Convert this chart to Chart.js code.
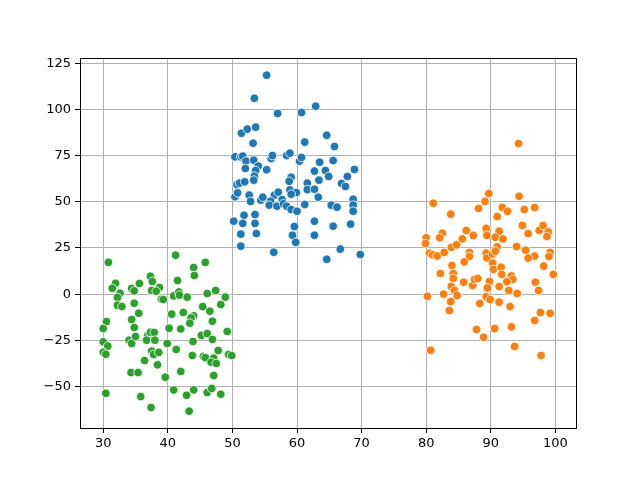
<!DOCTYPE html>
<html>
<head>
<meta charset="utf-8">
<script src="https://cdn.jsdelivr.net/npm/chart.js@4/dist/chart.umd.min.js"></script>
<style>
  html, body { margin: 0; padding: 0; background: #fff; }
  canvas { display: block; }
</style>
</head>
<body>
<canvas id="scatterChart" width="640" height="480"></canvas>
<script>
// Tick labels
const xTicks = [30, 40, 50, 60, 70, 80, 90, 100];
const yTicks = [-50, -25, 0, 25, 50, 75, 100, 125];

// Blue cluster
const blueX = [55.3, 53.4, 62.9, 57.0, 60.7, 51.4, 52.3, 53.6, 53.2, 61.2, 64.6, 65.8, 50.4, 51.3, 51.6, 52.1,
  53.3, 56.0, 56.2, 58.4, 58.9, 60.4, 60.7, 63.5, 65.6, 54.0, 52.0, 53.6, 55.3, 62.7, 64.4, 68.9,
  53.4, 53.3, 50.7, 51.1, 51.9, 59.1, 58.8, 61.6, 63.4, 64.9, 67.8, 66.9, 67.5, 50.4, 50.8, 52.6,
  52.8, 54.4, 54.7, 56.5, 57.1, 58.9, 59.9, 59.1, 61.6, 62.7, 63.3, 55.9, 55.7, 56.9, 57.7, 57.9,
  58.4, 59.1, 60.0, 61.2, 65.3, 66.2, 68.7, 68.7, 68.7, 50.2, 51.8, 51.6, 53.5, 53.5, 53.7, 51.3,
  51.3, 59.6, 59.3, 59.8, 62.7, 62.7, 65.6, 68.3, 56.4, 66.7, 64.6, 69.8];
const blueY = [118.5, 106.0, 101.7, 97.8, 98.3, 87.1, 89.3, 90.4, 81.7, 82.3, 86.0, 79.9, 74.3, 74.3, 74.7, 72.0,
  72.5, 73.4, 75.0, 75.0, 76.3, 72.0, 74.0, 71.4, 72.3, 69.3, 68.0, 66.9, 67.3, 66.6, 66.9, 67.5,
  63.9, 61.7, 59.3, 60.1, 60.8, 63.3, 61.1, 60.1, 61.7, 63.7, 63.7, 59.9, 58.3, 52.7, 54.8, 53.6,
  50.2, 50.9, 52.5, 53.6, 55.2, 56.4, 55.0, 54.1, 56.6, 56.8, 52.5, 50.3, 48.2, 47.6, 51.2, 48.9,
  47.6, 45.8, 44.9, 48.5, 48.2, 47.1, 51.4, 48.2, 44.9, 39.5, 42.7, 38.3, 43.1, 38.3, 32.8, 32.5,
  26.0, 36.6, 31.9, 28.1, 39.5, 31.9, 36.8, 37.9, 22.7, 24.4, 18.9, 21.5];

// Orange cluster
const orangeX = [81.1, 83.8, 88.1, 89.1, 89.7, 82.5, 86.2, 87.3, 89.3, 80.0, 82.1, 85.6, 89.4,
  94.3, 94.4, 91.8, 92.6, 95.2, 96.8, 91.0, 91.3, 94.9, 95.8, 97.5, 98.1, 98.9, 98.7, 90.7, 91.9,
  79.9, 80.5, 81.0, 81.7, 82.8, 83.9, 84.7, 86.7, 86.7, 85.9, 89.3, 89.4, 84.0, 82.2, 84.2, 84.2,
  85.8, 87.2, 87.5, 88.0, 83.9, 84.4, 84.8, 82.7, 80.2, 83.8, 83.6, 88.3, 89.3, 89.4, 87.8, 88.9, 80.7,
  91.0, 94.0, 95.4, 96.8, 95.8, 99.2, 99.0, 98.2, 99.7, 90.3, 90.7, 90.3, 90.4, 91.6, 91.7, 93.2,
  93.4, 92.5, 89.8, 89.5, 91.3, 92.8, 94.1, 96.9, 97.4, 89.9, 91.3, 93.0, 97.7, 99.2, 96.8, 90.6,
  93.2, 93.7, 97.8];
const orangeY = [49.2, 43.3, 46.4, 50.2, 54.5, 33.0, 34.5, 31.8, 35.6, 30.5, 30.5, 29.9, 31.8,
  81.5, 53.0, 46.9, 44.8, 45.8, 46.9, 42.0, 34.1, 37.2, 32.8, 34.5, 37.2, 33.7, 31.2, 30.8, 29.9,
  27.4, 22.2, 21.3, 20.7, 22.6, 25.4, 26.7, 22.6, 20.4, 17.5, 22.2, 19.6, 15.5, 11.2, 11.2, 8.5,
  6.5, 4.7, 8.0, 8.5, 4.2, 2.0, -0.7, 0.0, -1.2, -4.0, -8.8, -5.0, -1.3, 3.1, -19.1, -23.3, -30.3,
  25.6, 25.8, 23.8, 20.6, 19.5, 22.6, 20.4, 15.2, 10.7, 21.8, 23.3, 16.8, 13.4, 14.6, 10.7, 9.9,
  8.0, 6.7, 6.9, 3.4, 4.2, 2.0, 0.4, 6.5, 2.0, -2.9, -4.3, -6.7, -9.9, -10.4, -14.2, -18.6,
  -17.7, -28.3, -33.2];

// Green cluster
const greenX = [30.8, 31.9, 31.4, 32.6, 32.2, 32.2, 32.9, 34.4, 34.8, 35.6, 37.3, 37.6, 38.7, 37.5,
  38.2, 39.0, 39.3, 34.8, 35.5, 34.4, 30.5, 30.0, 34.8,
  41.2, 45.8, 44.0, 44.1, 41.5, 40.9, 41.7, 41.8, 43.0, 46.1, 47.4, 48.9, 48.2, 45.4, 46.5, 42.4,
  40.6, 44.0, 43.6, 43.4, 46.9, 40.2, 42.0,
  30.0, 30.7, 30.0, 30.4, 34.0, 34.4, 35.0, 36.9, 37.3, 37.9, 36.7, 38.0, 37.5, 37.8, 38.6, 36.4,
  38.4, 39.6, 34.3, 35.4, 30.4, 35.8, 37.4,
  45.2, 46.1, 46.9, 49.2, 43.9, 39.9, 41.3, 43.8, 45.5, 45.8, 47.1, 46.7, 47.5, 47.8, 49.4, 49.9,
  42.0, 47.1, 40.9, 42.9, 44.0, 46.1, 46.8, 48.2, 43.3];
const greenY = [17.2, 5.9, 3.2, 0.5, -1.8, -6.0, -6.7, 3.1, 1.8, 5.8, 9.7, 6.9, 3.6, 2.0,
  1.6, -2.7, -2.9, -4.9, -10.3, -13.7, -14.8, -18.6, -18.0,
  21.1, 17.2, 14.4, 10.1, 7.4, -0.9, 1.2, -0.5, -1.6, 0.4, 2.0, -1.6, -5.6, -6.7, -9.2, -9.9,
  -10.8, -11.7, -12.8, -15.7, -14.6, -18.4, -18.8,
  -25.8, -28.1, -31.4, -32.5, -24.9, -26.7, -22.9, -22.3, -20.6, -20.7, -24.9, -24.9, -30.8, -32.6, -31.5, -35.9,
  -38.2, -44.9, -42.4, -42.4, -53.6, -55.4, -61.3,
  -22.3, -21.3, -24.5, -20.2, -25.6, -26.7, -29.9, -33.2, -33.7, -34.3, -34.6, -36.8, -37.5, -30.5, -32.6, -33.2,
  -41.8, -44.0, -51.8, -54.7, -51.8, -53.2, -51.0, -54.1, -63.3];

const toPoints = (xs, ys) => xs.map((x, i) => ({ x: x, y: ys[i] }));

const colors = {
  blue: '#1f77b4',
  orange: '#ff7f0e',
  green: '#2ca02c',
  grid: '#b0b0b0'
};

function makeSet(label, xs, ys, color) {
  return {
    label: label,
    data: toPoints(xs, ys),
    backgroundColor: color,
    borderColor: '#ffffff',
    borderWidth: 0.8,
    pointRadius: 4.3,
    pointHoverRadius: 4.3
  };
}

// matplotlib-style frame around the plot area
const framePlugin = {
  id: 'frame',
  afterDatasetsDraw(chart) {
    const a = chart.chartArea;
    const ctx = chart.ctx;
    ctx.save();
    ctx.strokeStyle = '#000';
    ctx.lineWidth = 1;
    ctx.strokeRect(Math.round(a.left) + 0.5, Math.round(a.top) + 0.5,
      Math.round(a.right - a.left), Math.round(a.bottom - a.top));
    ctx.restore();
  }
};

const tickFont = { family: 'DejaVu Sans', size: 13 };
const minus = v => String(v).replace('-', '\u2212');

new Chart(document.getElementById('scatterChart'), {
  type: 'scatter',
  data: {
    datasets: [
      makeSet('blue', blueX, blueY, colors.blue),
      makeSet('orange', orangeX, orangeY, colors.orange),
      makeSet('green', greenX, greenY, colors.green)
    ]
  },
  options: {
    responsive: false,
    animation: false,
    layout: { padding: { left: 0, top: 58, right: 64, bottom: 0 } },
    plugins: {
      legend: { display: false },
      tooltip: { enabled: false }
    },
    scales: {
      x: {
        type: 'linear',
        min: 26.4,
        max: 103.2,
        afterBuildTicks: s => { s.ticks = xTicks.map(v => ({ value: v })); },
        afterFit: s => { s.height = 52; },
        grid: { color: colors.grid, lineWidth: 1, tickColor: '#000', tickLength: 5 },
        border: { display: false },
        ticks: { font: tickFont, color: '#000', padding: 3, maxRotation: 0, callback: minus }
      },
      y: {
        type: 'linear',
        min: -72.4,
        max: 127.8,
        afterBuildTicks: s => { s.ticks = yTicks.map(v => ({ value: v })); },
        afterFit: s => { s.width = 80; },
        grid: { color: colors.grid, lineWidth: 1, tickColor: '#000', tickLength: 5 },
        border: { display: false },
        ticks: { font: tickFont, color: '#000', padding: 4, callback: minus }
      }
    }
  },
  plugins: [framePlugin]
});
</script>
</body>
</html>
